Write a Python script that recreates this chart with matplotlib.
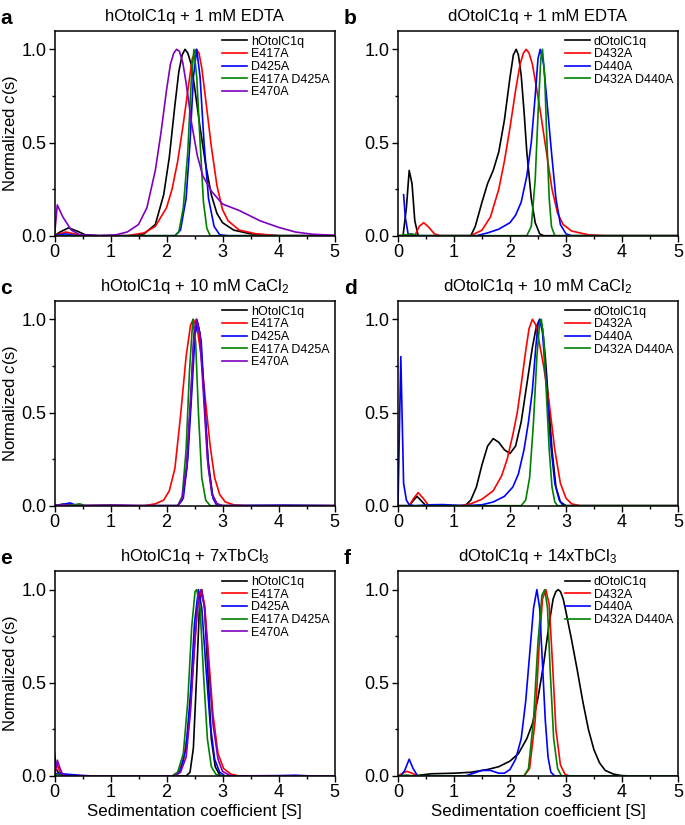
import numpy as np
import matplotlib
matplotlib.use("Agg")
import matplotlib.pyplot as plt
from matplotlib.ticker import MultipleLocator

plt.rcParams['font.family'] = ['Liberation Sans', 'DejaVu Sans']
plt.rcParams['mathtext.fontset'] = 'custom'
plt.rcParams['mathtext.rm'] = 'Liberation Sans'
plt.rcParams['mathtext.it'] = 'Liberation Sans:italic'

# ---- data (s in S, normalized c(s)) ----
# panel a: hOtolC1q + 1 mM EDTA
a_hotol = [(0, 0), (0.1, 0.02), (0.25, 0.042), (0.4, 0.025), (0.55, 0.005), (0.8, 0), (1.4, 0), (1.6, 0.01),
           (1.8, 0.06), (1.95, 0.22), (2.05, 0.42), (2.15, 0.7), (2.22, 0.88), (2.28, 0.97), (2.33, 1.0),
           (2.38, 0.98), (2.44, 0.92), (2.5, 0.8), (2.6, 0.58), (2.7, 0.38), (2.8, 0.22), (2.9, 0.12),
           (3.0, 0.07), (3.2, 0.03), (3.5, 0.01), (4, 0), (5, 0)]
a_e417a = [(0, 0), (0.1, 0.01), (0.2, 0.02), (0.35, 0.01), (0.5, 0), (1.3, 0), (1.6, 0.015), (1.8, 0.05),
           (2.0, 0.15), (2.1, 0.25), (2.2, 0.4), (2.3, 0.6), (2.4, 0.82), (2.46, 0.95), (2.53, 1.0),
           (2.58, 0.98), (2.63, 0.9), (2.7, 0.73), (2.8, 0.48), (2.9, 0.27), (3.0, 0.14), (3.1, 0.08),
           (3.3, 0.03), (3.6, 0.01), (4, 0), (5, 0)]
a_d425a = [(0, 0), (0.2, 0.01), (0.4, 0), (2.15, 0), (2.25, 0.03), (2.35, 0.2), (2.42, 0.5), (2.48, 0.85),
           (2.54, 1.0), (2.6, 0.85), (2.67, 0.5), (2.75, 0.2), (2.85, 0.05), (2.95, 0.005), (3.1, 0), (5, 0)]
a_double = [(0, 0), (2.15, 0), (2.22, 0.02), (2.3, 0.15), (2.38, 0.45), (2.44, 0.82), (2.49, 1.0),
            (2.54, 0.85), (2.6, 0.5), (2.66, 0.18), (2.72, 0.04), (2.78, 0), (5, 0)]
a_e470a = [(0, 0), (0.05, 0.165), (0.15, 0.1), (0.3, 0.03), (0.45, 0.005), (0.8, 0), (1.1, 0.005),
           (1.3, 0.02), (1.5, 0.06), (1.65, 0.15), (1.8, 0.35), (1.9, 0.55), (2.0, 0.78), (2.07, 0.92),
           (2.13, 0.98), (2.18, 1.0), (2.23, 0.99), (2.29, 0.93), (2.35, 0.82), (2.45, 0.6), (2.55, 0.43),
           (2.65, 0.32), (2.8, 0.24), (3.0, 0.17), (3.3, 0.135), (3.67, 0.08), (4.0, 0.045), (4.3, 0.02),
           (4.6, 0.008), (5, 0.002)]

# panel b: dOtolC1q + 1 mM EDTA
b_dotol = [(0, 0), (0.09, 0), (0.15, 0.15), (0.2, 0.35), (0.25, 0.28), (0.3, 0.08), (0.36, 0), (1.3, 0),
           (1.38, 0.05), (1.5, 0.18), (1.6, 0.28), (1.7, 0.35), (1.8, 0.45), (1.9, 0.62), (2.0, 0.85),
           (2.06, 0.97), (2.11, 1.0), (2.15, 0.97), (2.2, 0.86), (2.25, 0.67), (2.3, 0.45), (2.38, 0.2),
           (2.45, 0.07), (2.53, 0.01), (2.6, 0), (5, 0)]
b_d432a = [(0, 0), (0.3, 0), (0.38, 0.05), (0.46, 0.07), (0.55, 0.045), (0.65, 0.01), (0.75, 0), (1.3, 0),
           (1.5, 0.03), (1.65, 0.1), (1.8, 0.25), (1.9, 0.4), (2.0, 0.58), (2.1, 0.78), (2.18, 0.92),
           (2.24, 0.98), (2.29, 1.0), (2.34, 0.98), (2.4, 0.92), (2.47, 0.8), (2.55, 0.65), (2.65, 0.45),
           (2.75, 0.25), (2.85, 0.12), (2.95, 0.06), (3.1, 0.025), (3.4, 0.005), (3.7, 0), (5, 0)]
b_d440a = [(0.1, 0.22), (0.13, 0.1), (0.18, 0.01), (0.25, 0.005), (0.4, 0), (1.4, 0), (1.6, 0.015),
           (1.8, 0.035), (2.0, 0.07), (2.1, 0.11), (2.2, 0.18), (2.3, 0.32), (2.38, 0.5), (2.45, 0.75),
           (2.5, 0.95), (2.54, 1.0), (2.6, 0.92), (2.66, 0.72), (2.74, 0.45), (2.82, 0.2), (2.9, 0.06),
           (3.0, 0.01), (3.1, 0), (5, 0)]
b_double = [(0, 0), (0.15, 0.005), (0.25, 0.01), (0.35, 0), (2.3, 0), (2.38, 0.05), (2.45, 0.3),
            (2.5, 0.65), (2.55, 0.95), (2.58, 1.0), (2.62, 0.85), (2.66, 0.5), (2.7, 0.2), (2.74, 0.05),
            (2.8, 0), (5, 0)]

# panel c: hOtolC1q + 10 mM CaCl2
c_hotol = [(0, 0), (0.15, 0.008), (0.3, 0.005), (0.5, 0), (1.0, 0.003), (1.3, 0), (2.2, 0), (2.28, 0.03),
           (2.36, 0.2), (2.43, 0.55), (2.49, 0.9), (2.54, 1.0), (2.6, 0.92), (2.67, 0.6), (2.74, 0.25),
           (2.82, 0.06), (2.9, 0.01), (3.0, 0), (5, 0)]
c_e417a = [(0, 0), (0.2, 0.005), (0.5, 0), (1.6, 0), (1.8, 0.01), (1.95, 0.03), (2.05, 0.08), (2.15, 0.2),
           (2.25, 0.48), (2.35, 0.8), (2.43, 0.97), (2.48, 1.0), (2.55, 0.95), (2.62, 0.8), (2.7, 0.55),
           (2.78, 0.32), (2.86, 0.15), (2.95, 0.06), (3.05, 0.02), (3.2, 0.005), (3.4, 0), (5, 0)]
c_d425a = [(0, 0), (0.2, 0.01), (0.28, 0.015), (0.4, 0), (2.2, 0), (2.3, 0.04), (2.38, 0.25), (2.45, 0.6),
           (2.51, 0.92), (2.56, 0.98), (2.62, 0.88), (2.68, 0.55), (2.75, 0.2), (2.83, 0.04), (2.9, 0),
           (4.1, 0.003), (5, 0)]
c_double = [(0, 0), (0.35, 0.005), (0.45, 0.01), (0.55, 0), (2.2, 0), (2.28, 0.05), (2.35, 0.3),
            (2.41, 0.72), (2.47, 1.0), (2.52, 0.88), (2.57, 0.5), (2.63, 0.15), (2.7, 0.03), (2.78, 0), (5, 0)]
c_e470a = [(0, 0), (0.15, 0.005), (0.3, 0), (1.2, 0.003), (1.5, 0), (2.2, 0), (2.28, 0.04), (2.36, 0.22),
           (2.43, 0.58), (2.49, 0.92), (2.53, 1.0), (2.59, 0.93), (2.66, 0.6), (2.73, 0.25), (2.81, 0.06),
           (2.9, 0.01), (3.0, 0), (5, 0)]

# panel d: dOtolC1q + 10 mM CaCl2
d_dotol = [(0, 0), (0.2, 0), (0.28, 0.03), (0.34, 0.05), (0.42, 0.025), (0.5, 0), (1.2, 0), (1.3, 0.03),
           (1.4, 0.1), (1.5, 0.22), (1.6, 0.32), (1.7, 0.36), (1.8, 0.34), (1.9, 0.3), (2.0, 0.28),
           (2.1, 0.32), (2.2, 0.45), (2.3, 0.65), (2.4, 0.85), (2.47, 0.96), (2.53, 1.0), (2.58, 0.95),
           (2.63, 0.8), (2.69, 0.55), (2.75, 0.3), (2.82, 0.1), (2.9, 0.02), (3.0, 0), (5, 0)]
d_d432a = [(0, 0), (0.2, 0), (0.28, 0.04), (0.36, 0.07), (0.45, 0.04), (0.55, 0), (1.1, 0), (1.3, 0.01),
           (1.5, 0.035), (1.7, 0.08), (1.85, 0.16), (1.95, 0.25), (2.05, 0.38), (2.13, 0.5), (2.2, 0.65),
           (2.28, 0.83), (2.34, 0.95), (2.4, 1.0), (2.46, 0.97), (2.52, 0.88), (2.6, 0.75), (2.7, 0.55),
           (2.8, 0.3), (2.9, 0.12), (3.0, 0.04), (3.1, 0.01), (3.25, 0), (5, 0)]
d_d440a = [(0, 0), (0.05, 0.8), (0.1, 0.12), (0.15, 0.03), (0.2, 0.005), (0.3, 0), (0.6, 0.005),
           (0.8, 0.006), (1.0, 0.003), (1.2, 0), (1.5, 0.005), (1.7, 0.02), (1.9, 0.05), (2.05, 0.1),
           (2.15, 0.17), (2.25, 0.3), (2.33, 0.45), (2.4, 0.62), (2.46, 0.85), (2.5, 0.97), (2.53, 1.0),
           (2.58, 0.93), (2.65, 0.65), (2.72, 0.35), (2.8, 0.12), (2.88, 0.03), (2.95, 0), (5, 0)]
d_double = [(0, 0), (2.2, 0), (2.28, 0.03), (2.35, 0.15), (2.42, 0.45), (2.48, 0.8), (2.53, 0.98),
            (2.56, 1.0), (2.6, 0.9), (2.65, 0.6), (2.7, 0.3), (2.75, 0.1), (2.8, 0.02), (2.85, 0), (5, 0)]

# panel e: hOtolC1q + 7xTbCl3
e_hotol = [(0, 0.12), (0.03, 0.04), (0.08, 0.01), (0.2, 0), (2.35, 0), (2.42, 0.02), (2.48, 0.15),
           (2.54, 0.55), (2.59, 0.92), (2.63, 1.0), (2.68, 0.9), (2.74, 0.55), (2.8, 0.2), (2.87, 0.05),
           (2.95, 0.005), (3.0, 0), (5, 0)]
e_e417a = [(0, 0), (0.02, 0.03), (0.05, 0.06), (0.1, 0.02), (0.2, 0), (2.1, 0), (2.2, 0.02), (2.3, 0.08),
           (2.4, 0.28), (2.48, 0.6), (2.55, 0.9), (2.62, 1.0), (2.68, 0.92), (2.75, 0.65), (2.83, 0.33),
           (2.92, 0.12), (3.02, 0.04), (3.15, 0.01), (3.3, 0), (5, 0)]
e_d425a = [(0, 0), (0.05, 0.015), (0.2, 0.01), (0.5, 0.003), (0.7, 0), (2.15, 0), (2.25, 0.03),
           (2.35, 0.15), (2.43, 0.45), (2.5, 0.82), (2.57, 1.0), (2.63, 0.9), (2.7, 0.6), (2.78, 0.28),
           (2.86, 0.09), (2.95, 0.02), (3.05, 0), (4.0, 0.002), (4.3, 0.004), (4.6, 0), (5, 0)]
e_double = [(0, 0), (0.05, 0.01), (0.15, 0), (2.1, 0), (2.2, 0.02), (2.3, 0.12), (2.38, 0.4), (2.45, 0.8),
            (2.51, 0.99), (2.54, 1.0), (2.6, 0.9), (2.66, 0.55), (2.73, 0.2), (2.8, 0.05), (2.88, 0.01),
            (2.95, 0), (5, 0)]
e_e470a = [(0, 0), (0.05, 0.085), (0.1, 0.04), (0.15, 0.005), (0.25, 0), (2.15, 0), (2.25, 0.02),
           (2.35, 0.1), (2.43, 0.35), (2.5, 0.7), (2.57, 0.97), (2.62, 1.0), (2.68, 0.9), (2.75, 0.6),
           (2.83, 0.28), (2.92, 0.09), (3.0, 0.025), (3.12, 0.005), (3.2, 0), (5, 0)]

# panel f: dOtolC1q + 14xTbCl3
f_dotol = [(0.3, 0), (0.4, 0.005), (0.6, 0.012), (1.0, 0.015), (1.3, 0.02), (1.6, 0.035), (1.8, 0.05),
           (2.0, 0.08), (2.15, 0.12), (2.3, 0.2), (2.4, 0.28), (2.5, 0.42), (2.6, 0.6), (2.7, 0.82),
           (2.77, 0.95), (2.82, 0.99), (2.86, 1.0), (2.9, 0.99), (2.95, 0.95), (3.0, 0.88), (3.1, 0.73),
           (3.2, 0.57), (3.3, 0.4), (3.4, 0.25), (3.5, 0.14), (3.6, 0.07), (3.7, 0.03), (3.85, 0.01),
           (4.0, 0.002), (4.2, 0), (5, 0)]
f_d432a = [(0, 0), (0.08, 0.015), (0.16, 0.025), (0.25, 0.015), (0.35, 0), (2.25, 0), (2.35, 0.04),
           (2.45, 0.3), (2.52, 0.7), (2.58, 0.95), (2.64, 1.0), (2.7, 0.92), (2.76, 0.6), (2.82, 0.25),
           (2.9, 0.06), (2.98, 0.01), (3.05, 0), (5, 0)]
f_d440a = [(0.05, 0), (0.12, 0.03), (0.2, 0.09), (0.27, 0.04), (0.35, 0), (1.2, 0), (1.35, 0.015),
           (1.5, 0.03), (1.65, 0.03), (1.8, 0.015), (1.9, 0.015), (2.0, 0.035), (2.1, 0.09), (2.2, 0.2),
           (2.28, 0.4), (2.35, 0.65), (2.42, 0.9), (2.48, 1.0), (2.53, 0.9), (2.58, 0.6), (2.63, 0.3),
           (2.68, 0.1), (2.73, 0.02), (2.8, 0), (5, 0)]
f_double = [(0, 0), (0.15, 0.005), (0.3, 0), (2.25, 0), (2.33, 0.04), (2.42, 0.3), (2.5, 0.72),
            (2.57, 0.97), (2.62, 1.0), (2.67, 0.9), (2.72, 0.55), (2.78, 0.2), (2.85, 0.04), (2.92, 0), (5, 0)]

h_labels = ['hOtolC1q', 'E417A', 'D425A', 'E417A D425A', 'E470A']
d_labels = ['dOtolC1q', 'D432A', 'D440A', 'D432A D440A']
h_colors = ['black', '#ff0000', '#0000ff', '#008000', '#8000c0']
d_colors = ['black', '#ff0000', '#0000ff', '#008000']

panels = [
    ('a', 'hOtolC1q + 1 mM EDTA', [a_hotol, a_e417a, a_d425a, a_double, a_e470a], h_labels, h_colors),
    ('b', 'dOtolC1q + 1 mM EDTA', [b_dotol, b_d432a, b_d440a, b_double], d_labels, d_colors),
    ('c', 'hOtolC1q + 10 mM CaCl$_2$', [c_hotol, c_e417a, c_d425a, c_double, c_e470a], h_labels, h_colors),
    ('d', 'dOtolC1q + 10 mM CaCl$_2$', [d_dotol, d_d432a, d_d440a, d_double], d_labels, d_colors),
    ('e', 'hOtolC1q + 7xTbCl$_3$', [e_hotol, e_e417a, e_d425a, e_double, e_e470a], h_labels, h_colors),
    ('f', 'dOtolC1q + 14xTbCl$_3$', [f_dotol, f_d432a, f_d440a, f_double], d_labels, d_colors),
]

fig = plt.figure(figsize=(6.85, 8.25), dpi=100)
W, H = 685, 825
lefts = [54.5, 398]
tops = [30.7, 300.7, 571]
ax_w, ax_h = 280, 205

for k, (letter, title, curves, labels, colors) in enumerate(panels):
    row, col = divmod(k, 2)
    l = lefts[col]
    t = tops[row]
    ax = fig.add_axes([l / W, 1 - (t + ax_h) / H, ax_w / W, ax_h / H])
    for pts, lab, colr in zip(curves, labels, colors):
        arr = np.array(pts)
        ax.plot(arr[:, 0], arr[:, 1], color=colr, lw=1.2, label=lab)
    ax.set_xlim(0, 5)
    ax.set_ylim(0, 1.1)
    ax.set_xticks([0, 1, 2, 3, 4, 5])
    ax.set_yticks([0.0, 0.5, 1.0])
    ax.set_yticklabels(['0.0', '0.5', '1.0'])
    ax.xaxis.set_minor_locator(MultipleLocator(0.5))
    ax.yaxis.set_minor_locator(MultipleLocator(0.25))
    ax.tick_params(which='major', direction='out', length=4, width=1, labelsize=13, pad=2)
    ax.tick_params(which='minor', direction='out', length=2.5, width=1)
    for sp in ax.spines.values():
        sp.set_linewidth(1.1)
    ax.set_title(title, fontsize=12, pad=7)
    if col == 0:
        ax.set_ylabel('Normalized $c$(s)', fontsize=12, labelpad=1)
    if row == 2:
        ax.set_xlabel('Sedimentation coefficient [S]', fontsize=12.2, labelpad=2)
    ax.legend(loc='upper right', frameon=False, fontsize=9, handlelength=2.0, handletextpad=0.3,
              labelspacing=0.05, borderpad=0.2, borderaxespad=0.2)
    fig.text((l - 54) / W, 1 - (t - 12) / H, letter, fontsize=15, fontweight='bold', va='center', ha='left')

fig.savefig('out.png', dpi=100)
